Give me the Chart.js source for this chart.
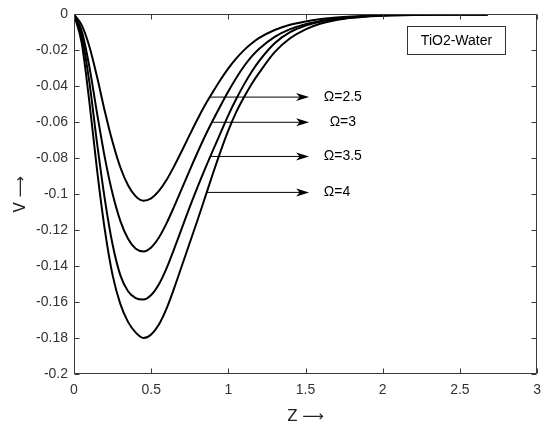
<!DOCTYPE html>
<html><head><meta charset="utf-8">
<script src="https://cdn.jsdelivr.net/npm/chart.js@4"></script>
<style>html,body{margin:0;padding:0;background:#fff}#wrap{width:549px;height:429px;position:relative}</style>
</head><body><div id="wrap"><canvas id="c"></canvas></div>
<script>
// ---- data ----
const zValues = [0,0.05,0.1,0.15,0.2,0.25,0.3,0.35,0.4,0.45,0.5,0.55,0.6,0.65,0.7,0.75,0.8,0.85,0.9,0.95,1.0,1.05,1.1,1.15,1.2,
                 1.3,1.4,1.5,1.6,1.7,1.8,1.9,2.0,2.2,2.4,2.68];
const vOmega25 = [0,-0.006,-0.018,-0.035,-0.054,-0.071,-0.085,-0.095,-0.1012,-0.1036,-0.1023,-0.0982,-0.092,-0.0842,-0.0757,-0.0669,-0.0583,-0.0503,-0.0431,-0.0362,-0.0300,-0.0246,-0.0200,-0.0162,-0.0131,
                  -0.0087,-0.0058,-0.0039,-0.0026,-0.0017,-0.0011,-0.0007,-0.0004,-0.0001,0,0];
const vOmega3  = [0,-0.0093,-0.0293,-0.0553,-0.0798,-0.0998,-0.1148,-0.1248,-0.1303,-0.1318,-0.1296,-0.1241,-0.1161,-0.1066,-0.0966,-0.0866,-0.0768,-0.0675,-0.0589,-0.0507,-0.0428,-0.0355,-0.0290,-0.0235,-0.0191,
                  -0.0125,-0.0082,-0.0054,-0.0036,-0.0023,-0.0014,-0.0009,-0.0005,-0.0002,-0.0001,0];
const vOmega35 = [0,-0.012,-0.038,-0.072,-0.103,-0.128,-0.145,-0.154,-0.1578,-0.1586,-0.1561,-0.1501,-0.1411,-0.1301,-0.1186,-0.1071,-0.0961,-0.0856,-0.0756,-0.0658,-0.0560,-0.0472,-0.0392,-0.0320,-0.0258,
                  -0.0160,-0.0099,-0.0062,-0.0039,-0.0026,-0.0017,-0.0010,-0.0006,-0.0002,-0.0001,0];
const vOmega4  = [0,-0.016,-0.049,-0.087,-0.120,-0.145,-0.161,-0.171,-0.177,-0.180,-0.178,-0.1725,-0.1635,-0.152,-0.1395,-0.127,-0.1145,-0.1015,-0.0885,-0.076,-0.0645,-0.0545,-0.0462,-0.0388,-0.0324,
                  -0.0210,-0.0133,-0.0083,-0.0051,-0.0031,-0.0019,-0.0011,-0.0007,-0.0003,-0.0001,0];
const seriesLabels = ['Ω=2.5','Ω=3','Ω=3.5','Ω=4'];
const arrowStartZ = [0.880,0.893,0.883,0.860];
const arrowV = [-0.046,-0.060,-0.079,-0.099];
const arrowEndZ = 1.523;
const xTicks = [0,0.5,1,1.5,2,2.5,3];
const yTicks = [-0.2,-0.18,-0.16,-0.14,-0.12,-0.1,-0.08,-0.06,-0.04,-0.02,0];
const legendText = 'TiO2-Water';
const xTitle = 'Z \u27F6';
const yTitle = 'V \u27F6';

// ---- build datasets ----
const curves = [vOmega25, vOmega3, vOmega35, vOmega4];
const datasets = curves.map((vals, i) => ({
  label: seriesLabels[i],
  data: zValues.map((zz, k) => ({x: zz, y: vals[k]})),
  borderColor: '#000', borderWidth: 2, pointRadius: 0,
  cubicInterpolationMode: 'monotone', fill: false
}));
arrowV.forEach((v, i) => datasets.push({
  label: 'arrow' + i,
  data: [{x: arrowStartZ[i], y: v}, {x: arrowEndZ - 0.03, y: v}],
  borderColor: '#000', borderWidth: 1, pointRadius: 0, fill: false
}));

const FONT = '"Liberation Sans", Arial, Helvetica, sans-serif';
const TITLE_FONT = '"DejaVu Sans", "Liberation Sans", sans-serif';
const labelStyle = {font: '14px ' + FONT, dz: [0.095, 0.133, 0.095, 0.095]};

const decor = {
  id: 'decor',
  afterDatasetsDraw(chart) {
    const {ctx, chartArea: a, scales: {x, y}} = chart;
    ctx.save();
    // arrowheads + labels
    ctx.fillStyle = '#000';
    arrowV.forEach((v, i) => {
      const tx = x.getPixelForValue(arrowEndZ), ty = y.getPixelForValue(v);
      ctx.beginPath();
      ctx.moveTo(tx, ty);
      ctx.lineTo(tx - 13, ty - 4);
      ctx.lineTo(tx - 9.5, ty);
      ctx.lineTo(tx - 13, ty + 4);
      ctx.closePath();
      ctx.fill();
      ctx.font = labelStyle.font;
      ctx.textBaseline = 'middle';
      ctx.textAlign = 'left';
      ctx.fillText(seriesLabels[i], x.getPixelForValue(arrowEndZ + labelStyle.dz[i]), ty);
    });
    // frame
    ctx.strokeStyle = '#3a3a3a';
    ctx.lineWidth = 1;
    const L = Math.round(a.left) + 0.5, R = Math.round(a.right) - 0.5, T = Math.round(a.top) + 0.5, B = Math.round(a.bottom) - 0.5;
    ctx.beginPath();
    ctx.rect(L, T, R - L, B - T);
    xTicks.forEach(t => {
      const px = Math.round(x.getPixelForValue(t)) + 0.5;
      ctx.moveTo(px, B); ctx.lineTo(px, B - 5);
      ctx.moveTo(px, T); ctx.lineTo(px, T + 5);
    });
    yTicks.forEach(t => {
      const py = Math.round(y.getPixelForValue(t)) + 0.5;
      ctx.moveTo(L, py); ctx.lineTo(L + 5, py);
      ctx.moveTo(R, py); ctx.lineTo(R - 5, py);
    });
    ctx.stroke();
    // legend text box
    const bx = R - 129, by = T + 12, bw = 98, bh = 28;
    ctx.fillStyle = '#fff';
    ctx.fillRect(bx, by, bw, bh);
    ctx.strokeStyle = '#333';
    ctx.strokeRect(bx, by, bw, bh);
    ctx.fillStyle = '#000';
    ctx.font = '14px ' + FONT;
    ctx.textAlign = 'center';
    ctx.textBaseline = 'middle';
    ctx.fillText(legendText, bx + bw / 2, by + bh / 2 + 0.5);
    ctx.restore();
  }
};

new Chart(document.getElementById('c'), {
  type: 'line',
  data: {datasets},
  options: {
    responsive: true, maintainAspectRatio: false, animation: false,
    layout: {padding: {left: 0, right: 10, top: 13, bottom: 0}},
    plugins: {legend: {display: false}, tooltip: {enabled: false}},
    scales: {
      x: {
        type: 'linear', min: 0, max: 3,
        afterBuildTicks: s => { s.ticks = xTicks.map(v => ({value: v})); },
        afterFit: s => { s.height = 55; },
        grid: {display: false, drawTicks: false},
        border: {display: false},
        ticks: {color: '#333', font: {size: 14, family: FONT}, padding: 8, maxRotation: 0,
          callback: v => String(v)},
        title: {display: true, text: xTitle, color: '#222', font: {size: 15, family: TITLE_FONT}, padding: {top: 0, bottom: 3}}
      },
      y: {
        type: 'linear', min: -0.2, max: 0,
        afterBuildTicks: s => { s.ticks = yTicks.map(v => ({value: v})); },
        afterFit: s => { s.width = 74; },
        grid: {display: false, drawTicks: false},
        border: {display: false},
        ticks: {color: '#333', font: {size: 14, family: FONT}, padding: 6,
          callback: v => String(Math.round(v * 100) / 100)},
        title: {display: true, text: yTitle, color: '#222', font: {size: 15, family: TITLE_FONT}, padding: {top: 12, bottom: 0}}
      }
    }
  },
  plugins: [decor]
});
</script></body></html>
